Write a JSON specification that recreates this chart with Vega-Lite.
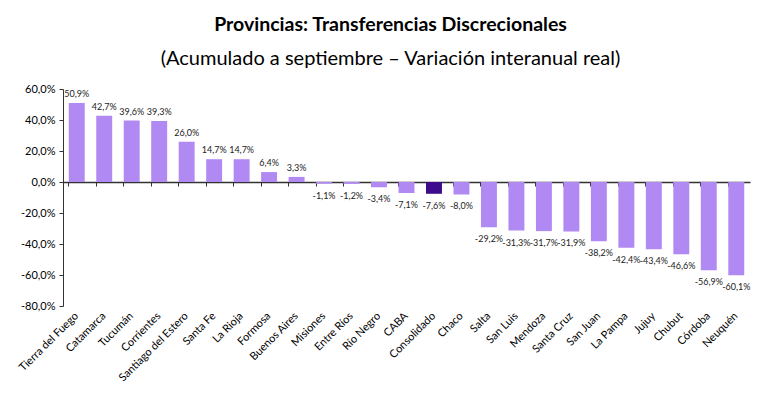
{
  "$schema": "https://vega.github.io/schema/vega-lite/v6.json",
  "width": 687,
  "height": 217,
  "autosize": {"type": "none"},
  "padding": {"left": 63, "top": 89, "right": 20, "bottom": 91},
  "background": "white",
  "title": {
    "text": "Provincias: Transferencias Discrecionales",
    "subtitle": "(Acumulado a septiembre – Variación interanual real)",
    "anchor": "middle",
    "dx": -16,
    "offset": 13,
    "font": "Lato",
    "fontSize": 19.5,
    "fontWeight": "bold",
    "color": "#000000",
    "subtitleFont": "Lato",
    "subtitleFontSize": 20,
    "subtitleColor": "#000000",
    "subtitlePadding": 14
  },
  "config": {
    "view": {"stroke": null},
    "locale": {"number": {"decimal": ",", "thousands": ".", "grouping": [3], "currency": ["$", ""], "minus": "-"}},
    "font": "Lato"
  },
  "data": {
    "values": [
      {"provincia": "Tierra del Fuego", "valor": 0.509, "tipo": "prov"},
      {"provincia": "Catamarca", "valor": 0.427, "tipo": "prov"},
      {"provincia": "Tucumán", "valor": 0.396, "tipo": "prov"},
      {"provincia": "Corrientes", "valor": 0.393, "tipo": "prov"},
      {"provincia": "Santiago del Estero", "valor": 0.260, "tipo": "prov"},
      {"provincia": "Santa Fe", "valor": 0.147, "tipo": "prov"},
      {"provincia": "La Rioja", "valor": 0.147, "tipo": "prov"},
      {"provincia": "Formosa", "valor": 0.064, "tipo": "prov"},
      {"provincia": "Buenos Aires", "valor": 0.033, "tipo": "prov"},
      {"provincia": "Misiones", "valor": -0.011, "tipo": "prov"},
      {"provincia": "Entre Ríos", "valor": -0.012, "tipo": "prov"},
      {"provincia": "Río Negro", "valor": -0.034, "tipo": "prov"},
      {"provincia": "CABA", "valor": -0.071, "tipo": "prov"},
      {"provincia": "Consolidado", "valor": -0.076, "tipo": "total"},
      {"provincia": "Chaco", "valor": -0.080, "tipo": "prov"},
      {"provincia": "Salta", "valor": -0.292, "tipo": "prov"},
      {"provincia": "San Luis", "valor": -0.313, "tipo": "prov"},
      {"provincia": "Mendoza", "valor": -0.317, "tipo": "prov"},
      {"provincia": "Santa Cruz", "valor": -0.319, "tipo": "prov"},
      {"provincia": "San Juan", "valor": -0.382, "tipo": "prov"},
      {"provincia": "La Pampa", "valor": -0.424, "tipo": "prov"},
      {"provincia": "Jujuy", "valor": -0.434, "tipo": "prov"},
      {"provincia": "Chubut", "valor": -0.466, "tipo": "prov"},
      {"provincia": "Córdoba", "valor": -0.569, "tipo": "prov"},
      {"provincia": "Neuquén", "valor": -0.601, "tipo": "prov"}
    ]
  },
  "encoding": {
    "x": {
      "field": "provincia",
      "type": "nominal",
      "sort": null,
      "scale": {"paddingInner": 0.42, "paddingOuter": 0.21},
      "axis": {
        "title": null,
        "offset": -124,
        "bandPosition": 0,
        "labelOffset": 0,
        "labelAngle": -45,
        "labelAlign": "right",
        "labelBaseline": "middle",
        "labelPadding": 128,
        "labelFontSize": 11,
        "labelColor": "#000000",
        "labelFont": "Lato",
        "domainColor": "#333333",
        "domainWidth": 1.5,
        "tickColor": "#333333",
        "tickSize": 4
      }
    },
    "y": {
      "field": "valor",
      "type": "quantitative",
      "scale": {"domain": [-0.8, 0.6], "nice": false, "zero": false},
      "axis": {
        "title": null,
        "format": ".1%",
        "values": [-0.8, -0.6, -0.4, -0.2, 0, 0.2, 0.4, 0.6],
        "grid": false,
        "labelFontSize": 11,
        "labelColor": "#000000",
        "labelPadding": 4,
        "domainColor": "#333333",
        "tickColor": "#333333",
        "tickSize": 4
      }
    }
  },
  "layer": [
    {
      "mark": {"type": "bar"},
      "encoding": {
        "color": {
          "field": "tipo",
          "type": "nominal",
          "scale": {"domain": ["prov", "total"], "range": ["#b189f2", "#3c0a8a"]},
          "legend": null
        }
      }
    },
    {
      "transform": [{"filter": "datum.valor >= 0"}],
      "mark": {"type": "text", "baseline": "bottom", "dy": -4, "fontSize": 9, "color": "#222222"},
      "encoding": {"text": {"field": "valor", "type": "quantitative", "format": ".1%"}}
    },
    {
      "transform": [{"filter": "datum.valor < 0"}],
      "mark": {"type": "text", "baseline": "top", "dy": 8, "fontSize": 9, "color": "#222222"},
      "encoding": {"text": {"field": "valor", "type": "quantitative", "format": ".1%"}}
    }
  ]
}
